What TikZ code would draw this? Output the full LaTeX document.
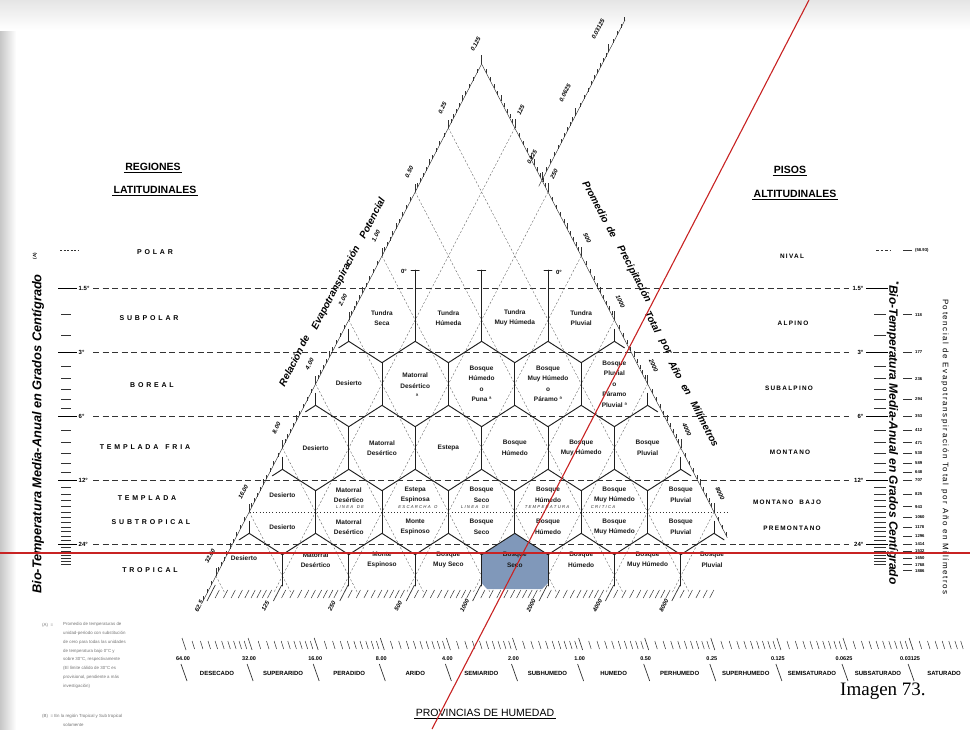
\documentclass[tikz,border=0pt]{standalone}
\usepackage{fontspec}
\setmainfont{Liberation Sans}
\newfontfamily\spacedA[LetterSpace=40]{Liberation Sans}
\newfontfamily\spacedB[LetterSpace=20]{Liberation Sans}
\newfontfamily\imgserif{Liberation Serif}
\definecolor{redline}{RGB}{200,35,35}
\definecolor{hexblue}{RGB}{128,152,186}
\begin{document}
\begin{tikzpicture}[x=1pt,y=-1pt,
 hexedge/.style={line width=0.95pt,black!88,line cap=round},
 guide/.style={line width=0.35pt,black!65,dash pattern=on 2.2pt off 1.8pt},
 tline/.style={line width=0.55pt,black!80,dash pattern=on 6pt off 3.5pt},
 frost/.style={line width=1pt,black!80,dash pattern=on 1pt off 2.2pt},
 axisline/.style={line width=0.45pt,black!80},
 smalltick/.style={line width=0.5pt,black!80},
 zlab/.style={font=\fontsize{6.5}{10.5}\selectfont\bfseries,align=center,inner sep=0pt,text=black!90},
 regL/.style={font=\spacedA\bfseries\fontsize{7}{8}\selectfont,inner sep=0pt},
 regR/.style={font=\spacedB\bfseries\fontsize{6.4}{8}\selectfont,inner sep=0pt},
 ttl/.style={font=\bfseries\fontsize{10.5}{12}\selectfont,inner sep=1.2pt},
 deg/.style={font=\bfseries\fontsize{6}{7}\selectfont,inner sep=0.5pt},
 axlab/.style={font=\bfseries\itshape\fontsize{6}{7}\selectfont,inner sep=0pt},
 axttl/.style={font=\bfseries\itshape\fontsize{10}{12}\selectfont,inner sep=0pt},
 numlab/.style={font=\bfseries\fontsize{5.5}{6}\selectfont,inner sep=0pt},
 prov/.style={font=\bfseries\fontsize{6}{7}\selectfont,inner sep=0pt},
 petlab/.style={font=\bfseries\fontsize{4.2}{5}\selectfont,inner sep=0pt},
 fnote/.style={font=\fontsize{4.4}{8.9}\selectfont,text=black!55,inner sep=0pt,align=left},
 frosttxt/.style={font=\itshape\fontsize{4.3}{5}\selectfont,inner sep=0pt,text=black!80},
]
\useasboundingbox (0,0) rectangle (970,729);
% scan shading
\shade[left color=black!22,right color=white] (0,0) rectangle (16,729);
\shade[top color=black!10,bottom color=white] (0,0) rectangle (970,30);

% ---------- temperature lines ----------
\foreach \yy in {288,352,416,480,544} \draw[tline] (93,\yy) -- (849,\yy);
\foreach \yy/\lab in {288/1.5°,352/3°,416/6°,480/12°,544/24°}{
  \draw[line width=0.9pt] (58,\yy) -- (77,\yy);
  \draw[line width=0.9pt] (866,\yy) -- (888,\yy);
  \node[deg,anchor=west] (tl\yy) at (78,\yy) {\lab};
  \node[deg,anchor=east] (tr\yy) at (864,\yy) {\lab};
}
\foreach \tv in {2,2.5,3.5,4,4.5,5,5.5,7,8,9,10,11,13,14,15,16,17,18,19,20,21,22,23,25,26,27,28,29,30}{
  \pgfmathsetmacro\yy{288+64*ln(\tv/1.5)/ln(2)}
  \draw[smalltick,line width=0.8pt] (61,\yy) -- (71,\yy);
  \draw[smalltick,line width=0.8pt] (874,\yy) -- (886,\yy);
}
\draw[tline,dash pattern=on 2pt off 1.5pt] (60,250.6) -- (78,250.6);
\draw[tline,dash pattern=on 2.5pt off 2pt] (876,250.6) -- (890,250.6);
% PET scale on the right
\draw[smalltick,line width=0.8pt] (903,250.6) -- (912,250.6);
\node[petlab,anchor=west] (pet1) at (915,250.6) {(58.93)};
\foreach \tv/\pv in {2/118,3/177,4/236,5/294,6/353,7/412,8/471,9/530,10/589,11/648,12/707,14/825,16/943,18/1060,20/1178,22/1296,24/1414,26/1532,28/1650,30/1768,32/1886}{
  \pgfmathsetmacro\yy{288+64*ln(\tv/1.5)/ln(2)}
  \draw[smalltick,line width=0.8pt] (903,\yy) -- (912,\yy);
  \node[petlab,anchor=west] (pet\tv) at (915,\yy) {\pv};
}

% ---------- dashed guide lines ----------
\foreach \k in {-2,...,5}{
  \pgfmathsetmacro\ax{382-33.2*(\k)}
  \pgfmathsetmacro\ay{256+64*(\k)}
  \pgfmathsetmacro\ex{\ax+0.51875*(592-\ay)}
  \draw[guide] (\ax,\ay) -- (\ex,592);
}
\foreach \j in {1,...,7}{
  \pgfmathsetmacro\bx{481.6+33.2*\j}
  \pgfmathsetmacro\by{64+64*\j}
  \pgfmathsetmacro\ex{\bx-0.51875*(592-\by)}
  \draw[guide] (\bx,\by) -- (\ex,592);
}

% ---------- left axis ruler ----------
\draw[axisline] (481.6,64) -- (202.7,601.6);
\foreach \k in {-3,...,5}{\foreach \i in {0,...,9}{
  \pgfmathsetmacro\tv{\k+ln(1+\i/10)/ln(2)}
  \pgfmathsetmacro\px{382-33.2*\tv}
  \pgfmathsetmacro\py{256+64*\tv}
  \pgfmathsetmacro\tl{\i==0 ? 8 : (\i==5 ? 6 : 4)}
  \ifdim\tv pt<5.45pt \draw[smalltick] (\px,\py) -- ++(0,-\tl); \fi
}}
% right axis ruler
\draw[axisline] (481.6,64) -- (727.3,537.6);
\foreach \k in {0,...,7}{\foreach \i in {0,...,9}{
  \pgfmathsetmacro\tv{\k+ln(1+\i/10)/ln(2)}
  \pgfmathsetmacro\px{481.6+33.2*\tv}
  \pgfmathsetmacro\py{64+64*\tv}
  \pgfmathsetmacro\tl{\i==0 ? 9 : (\i==5 ? 6 : 4)}
  \ifdim\tv pt<7.4pt \draw[smalltick] (\px,\py) -- ++(0,-\tl); \fi
}}
% upper ruler 0.125 - 0.03125
\draw[axisline] (538.7,186.4) -- (625,20);
\foreach \k in {0,1,2}{\foreach \i in {0,...,9}{
  \pgfmathsetmacro\tv{\k+ln(1+\i/10)/ln(2)}
  \pgfmathsetmacro\px{542+33.2*\tv}
  \pgfmathsetmacro\py{180-64*\tv}
  \pgfmathsetmacro\tl{\i==0 ? 8 : 4}
  \ifdim\tv pt<2.5pt \draw[smalltick] (\px,\py) -- ++(0,-\tl); \fi
}}
% bottom ticks of the triangle
\foreach \k in {0,...,7}{\foreach \i in {0,...,9}{
  \pgfmathsetmacro\tv{\k+ln(1+\i/10)/ln(2)}
  \pgfmathsetmacro\px{206+66.4*\tv}
  \ifdim\tv pt<7.6pt
    \ifnum\i=0 \draw[smalltick,line width=0.7pt] (\px+1,601) -- ++(8.3,-16);
    \else \draw[smalltick] (\px,598) -- ++(4.2,-8); \fi
  \fi
}}

% axis labels
\foreach \k/\lab in {-3/0.125,-2/0.25,-1/0.50,0/1.00,1/2.00,2/4.00,3/8.00,4/16.00,5/32.00}{
  \pgfmathtruncatemacro\kk{\k+3}
  \node[axlab,rotate=62.6] (la\kk) at ({382-33.2*(\k)-6},{256+64*(\k)-20}) {\lab};
}
\foreach \j/\lab/\rot in {1/125/62.6,2/250/62.6,3/500/-65,4/1000/-65,5/2000/-65,6/4000/-65,7/8000/-65}{
  \node[axlab,rotate=\rot] (ra\j) at ({481.6+33.2*\j+6},{64+64*\j-18}) {\lab};
}
\foreach \j/\lab in {0/62.5,1/125,2/250,3/500,4/1000,5/2000,6/4000,7/8000}{
  \node[axlab,rotate=62.6] (ba\j) at ({199+66.4*\j},606) {\lab};
}
\node[axlab,rotate=62.6] (ua0) at (532,157) {0.125};
\node[axlab,rotate=62.6] (ua1) at (565,93) {0.0625};
\node[axlab,rotate=62.6] (ua2) at (598,29) {0.03125};
% axis titles, word by word along the sides
\node[axttl,rotate=62.6] (lt1) at (291,367) {Relación};
\node[axttl,rotate=62.6] (lt2) at (304,341) {de};
\node[axttl,rotate=62.6] (lt3) at (336,288) {Evapotranspiración};
\node[axttl,rotate=62.6] (lt4) at (372,218) {Potencial};
\node[axttl,rotate=-62.6] (rt1) at (596,202) {Promedio};
\node[axttl,rotate=-62.6] (rt2) at (612,232) {de};
\node[axttl,rotate=-62.6] (rt3) at (634,274) {Precipitación};
\node[axttl,rotate=-62.6] (rt4) at (653,322) {Total};
\node[axttl,rotate=-62.6] (rt5) at (665,347) {por};
\node[axttl,rotate=-62.6] (rt6) at (676,370) {Año};
\node[axttl,rotate=-62.6] (rt7) at (686,390) {en};
\node[axttl,rotate=-62.6] (rt8) at (705,424) {Milímetros};

% ---------- blue hexagon ----------
\fill[hexblue] (481.6,554.67) -- (514.8,533.33) -- (548,554.67) -- (548,583) -- (542,589) -- (487,589) -- (481.6,583) -- cycle;

% ---------- hexagon edges ----------
\foreach \r in {1,...,4}{
  \pgfmathsetmacro\cy{320+64*(\r-1)}
  \pgfmathtruncatemacro\nk{\r+2}
  \foreach \k in {0,...,\nk}{
    \pgfmathsetmacro\cx{382-33.2*(\r-1)+66.4*\k}
    \draw[hexedge] (\cx-33.2,\cy+21.33) -- (\cx,\cy+42.67) -- (\cx+33.2,\cy+21.33);
  }
}
\foreach \vx in {415.2,481.6,548}{
  \draw[hexedge] (\vx,270) -- (\vx,341.33);
  \draw[hexedge] (\vx-4,270) -- (\vx+4,270);
}
\foreach \r in {2,3,4}{
  \pgfmathsetmacro\cy{320+64*(\r-1)}
  \pgfmathtruncatemacro\nk{\r+1}
  \foreach \k in {0,...,\nk}{
    \pgfmathsetmacro\vx{415.2-33.2*(\r-1)+66.4*\k}
    \draw[hexedge] (\vx,\cy-21.33) -- (\vx,\cy+21.33);
  }
}
\foreach \k in {0,...,6}{
  \pgfmathsetmacro\vx{282.4+66.4*\k}
  \draw[hexedge] (\vx,554.67) -- (\vx,586);
}
\foreach \r in {1,...,4}{
  \pgfmathsetmacro\cy{320+64*(\r-1)}
  \pgfmathsetmacro\lx{382-33.2*\r}
  \pgfmathsetmacro\rx{581.2+33.2*\r}
  \draw[hexedge] (\lx,\cy+21.33) -- ++(0,-12);
  \draw[hexedge] (\rx,\cy+21.33) -- ++(0,-12);
  \draw[hexedge] (\lx,\cy+21.33) -- ++(-10.1,6.5);
  \draw[hexedge] (\rx,\cy+21.33) -- ++(10.1,6.5);
}
\node[deg] (z0a) at (404,271) {0°};
\node[deg] (z0b) at (559,272) {0°};

% frost line
\draw[frost] (250,512) -- (727,512);
\node[frosttxt] (fr1) at (350,507.5) {L I N E A \ \ D E};
\node[frosttxt] (fr2) at (418,507.5) {E S C A R C H A \ \ O};
\node[frosttxt] (fr3) at (475,507.5) {L I N E A \ \ D E};
\node[frosttxt] (fr4) at (547,507.5) {T E M P E R A T U R A};
\node[frosttxt] (fr5) at (603,507.5) {C R I T I C A};

% ---------- hexagon labels ----------
\node[zlab] (h11) at (382,318) {Tundra\\Seca};
\node[zlab] (h12) at (448.4,318) {Tundra\\Húmeda};
\node[zlab] (h13) at (514.8,318) {Tundra\\Muy Húmeda};
\node[zlab] (h14) at (581.2,318) {Tundra\\Pluvial};
\node[zlab] (h21) at (348.8,383) {Desierto};
\node[zlab] (h22) at (415.2,386) {Matorral\\Desértico\\\ \ ª};
\node[zlab] (h23) at (481.6,384) {Bosque\\Húmedo\\o\\Puna ª};
\node[zlab] (h24) at (548,384) {Bosque\\Muy Húmedo\\o\\Páramo ª};
\node[zlab] (h25) at (614.4,384) {Bosque\\Pluvial\\o\\Páramo\\Pluvial ª};
\node[zlab] (h31) at (315.6,448) {Desierto};
\node[zlab] (h32) at (382,448) {Matorral\\Desértico};
\node[zlab] (h33) at (448.4,448) {Estepa};
\node[zlab] (h34) at (514.8,448) {Bosque\\Húmedo};
\node[zlab] (h35) at (581.2,448) {Bosque\\Muy Húmedo};
\node[zlab] (h36) at (647.6,448) {Bosque\\Pluvial};
\node[zlab] (h41) at (282.4,495) {Desierto};
\node[zlab] (h42) at (348.8,495) {Matorral\\Desértico};
\node[zlab] (h43) at (415.2,495) {Estepa\\Espinosa};
\node[zlab] (h44) at (481.6,495) {Bosque\\Seco};
\node[zlab] (h45) at (548,495) {Bosque\\Húmedo};
\node[zlab] (h46) at (614.4,495) {Bosque\\Muy Húmedo};
\node[zlab] (h47) at (680.8,495) {Bosque\\Pluvial};
\node[zlab] (g41) at (282.4,527) {Desierto};
\node[zlab] (g42) at (348.8,527) {Matorral\\Desértico};
\node[zlab] (g43) at (415.2,527) {Monte\\Espinoso};
\node[zlab] (g44) at (481.6,527) {Bosque\\Seco};
\node[zlab] (g45) at (548,527) {Bosque\\Húmedo};
\node[zlab] (g46) at (614.4,527) {Bosque\\Muy Húmedo};
\node[zlab] (g47) at (680.8,527) {Bosque\\Pluvial};
\node[zlab] (h51) at (244,558) {Desierto};
\node[zlab] (h52) at (315.6,560) {Matorral\\Desértico};
\node[zlab] (h53) at (382,560) {Monte\\Espinoso};
\node[zlab] (h54) at (448.4,560) {Bosque\\Muy Seco};
\node[zlab] (h55) at (514.8,560) {Bosque\\Seco};
\node[zlab] (h56) at (581.2,560) {Bosque\\Húmedo};
\node[zlab] (h57) at (647.6,560) {Bosque\\Muy Húmedo};
\node[zlab] (h58) at (712,560) {Bosque\\Pluvial};

% ---------- titles and belt names ----------
\node[ttl] (rg1) at (153,167) {REGIONES};
\draw[line width=0.7pt] (rg1.south west) -- (rg1.south east);
\node[ttl] (rg2) at (155,190) {LATITUDINALES};
\draw[line width=0.7pt] (rg2.south west) -- (rg2.south east);
\node[ttl] (ps1) at (790,170) {PISOS};
\draw[line width=0.7pt] (ps1.south west) -- (ps1.south east);
\node[ttl] (ps2) at (795,194) {ALTITUDINALES};
\draw[line width=0.7pt] (ps2.south west) -- (ps2.south east);

\node[regL] (l1) at (155,252) {POLAR};
\node[regL] (l2) at (149,318) {SUBPOLAR};
\node[regL] (l3) at (152,385) {BOREAL};
\node[regL] (l4) at (145,447) {TEMPLADA\quad FRIA};
\node[regL] (l5) at (147,498) {TEMPLADA};
\node[regL] (l6) at (151,522) {SUBTROPICAL};
\node[regL] (l7) at (150,570) {TROPICAL};
\node[regR] (p1) at (792,256) {NIVAL};
\node[regR] (p2) at (793,323) {ALPINO};
\node[regR] (p3) at (789,388) {SUBALPINO};
\node[regR] (p4) at (790,452) {MONTANO};
\node[regR] (p5) at (787,502) {MONTANO\ \ BAJO};
\node[regR] (p6) at (792,528) {PREMONTANO};

\node[font=\bfseries\itshape\fontsize{12.8}{14}\selectfont,rotate=90,inner sep=0pt] (ltitle) at (38,434) {Bio-Temperatura Media-Anual en Grados Centígrado};
\node[font=\bfseries\fontsize{4.5}{5}\selectfont,rotate=90,inner sep=0pt] (lA) at (35,256) {(A)};
\node[font=\bfseries\itshape\fontsize{12}{13}\selectfont,rotate=-90,inner sep=0pt] (rtitle) at (893,433) {\textsuperscript{*}Bio-Temperatura Media-Anual en Grados Centígrado};
\node[font=\spacedB\fontsize{8}{9}\selectfont,rotate=-90,inner sep=0pt] (pettitle) at (945,447) {Potencial de Evapotranspiración Total por Año en Milímetros};

% ---------- humidity provinces scale ----------
\foreach \i in {0,...,11}{\foreach \n in {0,...,9}{
  \pgfmathsetmacro\px{183+66.1*(\i+ln(1+\n/10)/ln(2))}
  \ifdim\px pt<962pt
    \ifnum\n=0 \draw[smalltick,line width=0.6pt] (\px-1,638) -- ++(4,12);
    \else \draw[smalltick] (\px,641) -- ++(2.5,8); \fi
  \fi
}}
\foreach \i/\v in {0/64.00,1/32.00,2/16.00,3/8.00,4/4.00,5/2.00,6/1.00,7/0.50,8/0.25,9/0.125,10/0.0625,11/0.03125}{
  \pgfmathsetmacro\xx{183+66.1*\i}
  \node[numlab] (hv\i) at (\xx,659) {\v};
  \draw[smalltick,line width=0.7pt] (\xx-2,664) -- (\xx+4,681);
}
\foreach \i/\p in {0/DESECADO,1/SUPERARIDO,2/PERADIDO,3/ARIDO,4/SEMIARIDO,5/SUBHUMEDO,6/HUMEDO,7/PERHUMEDO,8/SUPERHUMEDO,9/SEMISATURADO,10/SUBSATURADO,11/SATURADO}{
  \node[prov] (pv\i) at ({183+66.1*\i+34},673) {\p};
}
\node[font=\fontsize{10.5}{12}\selectfont,inner sep=1.2pt] (prv) at (485,713) {PROVINCIAS DE HUMEDAD};
\draw[line width=0.7pt] (prv.south west) -- (prv.south east);

% ---------- footnotes ----------
\node[fnote,anchor=west] (fa) at (42,625) {(A)\ \ =};
\node[fnote,anchor=north west] (fatext) at (63,622) {Promedio de temperaturas de\\unidad-período con substitución\\de cero para todas las unidades\\de temperatura bajo 0°C y\\sobre 30°C, respectivamente\\(El límite cálido de 30°C es\\provisional, pendiente a más\\investigación)};
\node[fnote,anchor=west] (fb) at (42,716) {(B)\ \ = En la región Tropical y Sub tropical};
\node[fnote,anchor=west] (fbtext) at (63,725) {solamente};

\node[font=\imgserif\fontsize{19}{22}\selectfont,anchor=west,inner sep=0pt] (img) at (840,691) {Imagen 73.};

% ---------- red overlay lines ----------
\draw[redline,line width=1.1pt] (0,553) -- (970,553);
\draw[redline,line width=1.1pt] (432,729) -- (809,0);
\end{tikzpicture}
\end{document}
